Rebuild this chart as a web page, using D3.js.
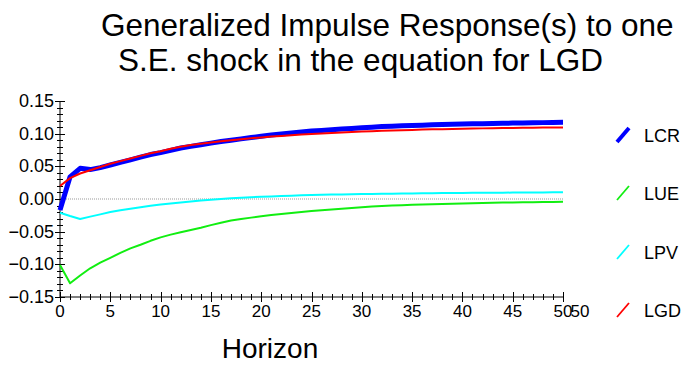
<!DOCTYPE html>
<html>
<head>
<meta charset="utf-8">
<script src="https://cdn.jsdelivr.net/npm/d3@7"></script>
<style>
  body { margin: 0; background: #fff; }
  text { font-family: "Liberation Sans", Arial, sans-serif; fill: #000; }
</style>
</head>
<body>
<div id="chart"></div>
<script>
// horizons 0..50
const horizon = d3.range(0, 51);

const seriesNames = ["LCR", "LUE", "LPV", "LGD"];

const lcr = [-0.017, 0.034, 0.047, 0.045, 0.048, 0.052, 0.056, 0.060, 0.064, 0.068,
  0.071, 0.0745, 0.078, 0.0805, 0.083, 0.0855, 0.088, 0.090, 0.092, 0.094,
  0.096, 0.0978, 0.0995, 0.101, 0.1025, 0.104, 0.105, 0.106, 0.107, 0.108,
  0.109, 0.110, 0.111, 0.1115, 0.112, 0.1125, 0.113, 0.1135, 0.114, 0.1143,
  0.1147, 0.115, 0.1153, 0.1156, 0.1159, 0.1162, 0.1165, 0.1167, 0.1169, 0.1171,
  0.1173];

const lue = [-0.101, -0.129, -0.117, -0.106, -0.0975, -0.090, -0.0825, -0.0755, -0.070, -0.064,
  -0.0587, -0.0545, -0.051, -0.0475, -0.044, -0.040, -0.0365, -0.033, -0.0307, -0.0285,
  -0.0265, -0.0246, -0.0229, -0.0213, -0.0199, -0.0185, -0.0172, -0.016, -0.0148, -0.0137,
  -0.0127, -0.0116, -0.0108, -0.0101, -0.0095, -0.0089, -0.0084, -0.0079, -0.0075, -0.0071,
  -0.0067, -0.0064, -0.0061, -0.0058, -0.0055, -0.0053, -0.0051, -0.0049, -0.0047, -0.0045,
  -0.0043];

const lpv = [-0.021, -0.026, -0.0305, -0.027, -0.0235, -0.020, -0.0172, -0.0148, -0.0127, -0.0105,
  -0.0085, -0.0068, -0.0053, -0.0038, -0.0024, -0.0011, 0.0000, 0.0010, 0.0019, 0.0027,
  0.0034, 0.0040, 0.0046, 0.0051, 0.0056, 0.0060, 0.0064, 0.0067, 0.0070, 0.0073,
  0.0076, 0.0078, 0.0080, 0.0082, 0.0084, 0.0086, 0.0088, 0.0089, 0.0091, 0.0092,
  0.0093, 0.0094, 0.0095, 0.0096, 0.0097, 0.0098, 0.0099, 0.0100, 0.0101, 0.0102,
  0.0103];

const lgd = [0.020, 0.032, 0.039, 0.044, 0.049, 0.054, 0.058, 0.062, 0.066, 0.070,
  0.073, 0.077, 0.080, 0.0825, 0.0845, 0.0865, 0.0883, 0.090, 0.0915, 0.093,
  0.0943, 0.0955, 0.0966, 0.0977, 0.0987, 0.0996, 0.1004, 0.1012, 0.1019, 0.1026,
  0.1032, 0.1038, 0.1044, 0.1049, 0.1054, 0.1058, 0.1062, 0.1066, 0.1069, 0.1072,
  0.1075, 0.1078, 0.1081, 0.1083, 0.1085, 0.1087, 0.1089, 0.1091, 0.1093, 0.1094,
  0.1096];

const yTicks = [0.15, 0.10, 0.05, 0.00, -0.05, -0.10, -0.15];
const xTicks = [0, 5, 10, 15, 20, 25, 30, 35, 40, 45, 50];

const width = 689, height = 366;

const svg = d3.select("#chart").append("svg")
    .attr("width", width)
    .attr("height", height);

// scales
const x = d3.scaleLinear().domain([0, 50]).range([60, 563]);
const y = d3.scaleLinear().domain([-0.15, 0.15]).range([297, 101]);

// title
svg.append("text")
    .attr("x", 101).attr("y", 36)
    .style("font-size", "31.5px")
    .text("Generalized Impulse Response(s) to one");
svg.append("text")
    .attr("x", 118).attr("y", 71)
    .style("font-size", "31.5px")
    .text("S.E. shock in the equation for LGD");

// zero line
svg.append("line")
    .attr("x1", x(0)).attr("x2", x(50))
    .attr("y1", y(0)).attr("y2", y(0))
    .attr("stroke", "#999")
    .attr("stroke-width", 1.2)
    .attr("stroke-dasharray", "1,1");

// y axis
const yAxisG = svg.append("g").attr("transform", "translate(" + x(0) + ",0)");
yAxisG.append("line")
    .attr("x1", 0).attr("x2", 0)
    .attr("y1", y(0.15)).attr("y2", y(-0.15))
    .attr("stroke", "#000");
yAxisG.selectAll(".ymin")
    .data(d3.range(-15, 16))
    .enter().append("line")
    .attr("x1", d => d % 5 === 0 ? -5 : -3)
    .attr("x2", d => d % 5 === 0 ? 5 : 3)
    .attr("y1", d => Math.round(y(d / 100)) + 0.5)
    .attr("y2", d => Math.round(y(d / 100)) + 0.5)
    .attr("stroke", "#000");
yAxisG.selectAll(".ylab")
    .data(yTicks)
    .enter().append("text")
    .attr("x", -6)
    .attr("y", d => y(d) + 6)
    .attr("text-anchor", "end")
    .style("font-size", "18px")
    .text(d => d3.format(".2f")(d));

// x axis
const xAxisG = svg.append("g").attr("transform", "translate(0," + y(-0.15) + ")");
xAxisG.append("line")
    .attr("x1", x(0)).attr("x2", x(50))
    .attr("y1", 0).attr("y2", 0)
    .attr("stroke", "#000");
xAxisG.selectAll(".xmin")
    .data(horizon)
    .enter().append("line")
    .attr("x1", d => Math.round(x(d)) + 0.5)
    .attr("x2", d => Math.round(x(d)) + 0.5)
    .attr("y1", d => d % 5 === 0 ? -5 : -3)
    .attr("y2", d => d % 5 === 0 ? 5 : 3)
    .attr("stroke", "#000");
xAxisG.selectAll(".xlab")
    .data(xTicks)
    .enter().append("text")
    .attr("x", d => x(d))
    .attr("y", 20)
    .attr("text-anchor", "middle")
    .style("font-size", "17px")
    .text(d => d);
// duplicated end label as in the original
xAxisG.append("text")
    .attr("x", x(50) + 17)
    .attr("y", 20)
    .attr("text-anchor", "middle")
    .style("font-size", "17px")
    .text("50");

// axis title
svg.append("text")
    .attr("x", 270).attr("y", 358)
    .attr("text-anchor", "middle")
    .style("font-size", "28px")
    .text("Horizon");

// lines
const series = [
  {name: "LCR", values: lcr, color: "#0000ff", w: 5},
  {name: "LUE", values: lue, color: "#11ee11", w: 2},
  {name: "LPV", values: lpv, color: "#00ffff", w: 2},
  {name: "LGD", values: lgd, color: "#ff0000", w: 2}
];

const line = d3.line()
    .x((d, i) => x(horizon[i]))
    .y(d => y(d));

svg.selectAll(".series")
    .data(series)
    .enter().append("path")
    .attr("class", "series")
    .attr("d", d => line(d.values))
    .attr("fill", "none")
    .attr("stroke", d => d.color)
    .attr("stroke-width", d => d.w)
    .attr("stroke-linejoin", "round");

// legend
const legendY = [135, 193, 252, 310];
const legend = svg.selectAll(".legend")
    .data(series)
    .enter().append("g")
    .attr("transform", (d, i) => "translate(0," + legendY[i] + ")");
legend.append("line")
    .attr("x1", 617).attr("y1", 7)
    .attr("x2", 629).attr("y2", -7)
    .attr("stroke", d => d.color)
    .attr("stroke-width", d => d.w === 2 ? 1.8 : 4);
legend.append("text")
    .attr("x", 644).attr("y", 6.5)
    .style("font-size", "18px")
    .text(d => d.name);
</script>
</body>
</html>
